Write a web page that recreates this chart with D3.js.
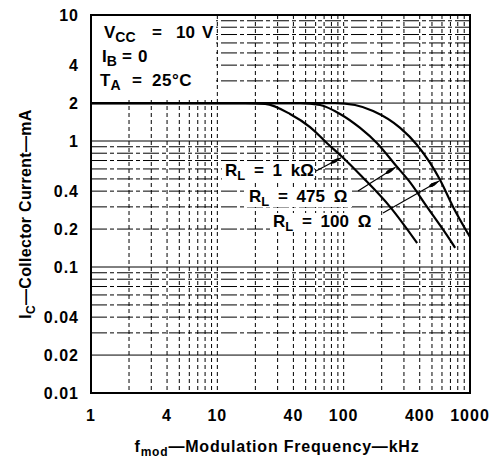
<!DOCTYPE html>
<html>
<head>
<meta charset="utf-8">
<script src="https://cdn.jsdelivr.net/npm/d3@7"></script>
<style>
  body { margin: 0; background: #fff; }
  text { font-family: "Liberation Sans", Arial, sans-serif; font-weight: bold; fill: #000; }
</style>
</head>
<body>
<svg id="chart" width="500" height="459"></svg>
<script>
// tick labels
const xTicks = [1, 4, 10, 40, 100, 400, 1000];
const yTicks = [0.01, 0.02, 0.04, 0.1, 0.2, 0.4, 1, 2, 4, 10];

// curves (kHz, mA)
const freq1k = [1, 16.6, 23.9, 37.6, 54.2, 73.9, 97.1, 140, 233, 381];
const cur1k = [2, 2, 1.97, 1.64, 1.29, 0.96, 0.75, 0.52, 0.30, 0.155];
const freq475 = [1, 45.2, 65, 93.6, 135, 184, 262, 330, 457, 695, 762];
const cur475 = [2, 2, 1.93, 1.64, 1.27, 0.96, 0.63, 0.48, 0.30, 0.164, 0.142];
const freq100 = [1, 85.5, 123, 171, 280, 381, 483, 580, 735, 1000];
const cur100 = [2, 2, 1.93, 1.73, 1.27, 0.93, 0.67, 0.49, 0.30, 0.173];

const seriesLabels = ['1 k\u03A9', '475 \u03A9', '100 \u03A9'];
// where each label arrow lands on its curve (kHz, mA)
const arrowFreq = [97.1, 262, 580];
const arrowCur = [0.75, 0.63, 0.49];

const svg = d3.select('#chart');
const plotL = 91, plotR = 470, plotT = 15, plotB = 393;

const x = d3.scaleLog().domain([1, 1000]).range([plotL, plotR]);
const y = d3.scaleLog().domain([0.01, 10]).range([plotB, plotT]);

// log grid lines (1..9 per decade)
const gridX = [], gridY = [];
[1, 10, 100].forEach(d => { for (let k = 1; k < 10; k++) gridX.push(d * k); });
[0.01, 0.1, 1].forEach(d => { for (let k = 1; k < 10; k++) gridY.push(+(d * k).toFixed(3)); });

const grid = svg.append('g');
grid.selectAll('.gy').data(gridY).enter().append('line')
    .attr('x1', plotL).attr('x2', plotR)
    .attr('y1', d => y(d)).attr('y2', d => y(d))
    .attr('stroke', '#000').attr('stroke-width', 1)
    .attr('stroke-dasharray', d => (d === 2 || d === 0.02 || d === 0.1 || d === 1) ? null : '16,3,4,3');
grid.selectAll('.gx').data(gridX).enter().append('line')
    .attr('y1', plotT).attr('y2', plotB)
    .attr('x1', d => x(d)).attr('x2', d => x(d))
    .attr('stroke', '#000').attr('stroke-width', 1)
    .attr('stroke-dasharray', '4,3');

// white area behind the conditions text
svg.append('rect').attr('x', plotL + 1).attr('y', plotT + 1).attr('width', 124).attr('height', 84).attr('fill', '#fff');

// curves
const line = d3.line().x(d => x(d[0])).y(d => y(d[1])).curve(d3.curveMonotoneX);
const curves = [d3.zip(freq1k, cur1k), d3.zip(freq475, cur475), d3.zip(freq100, cur100)];
svg.append('g').selectAll('path').data(curves).enter().append('path')
    .attr('d', line).attr('fill', 'none').attr('stroke', '#000').attr('stroke-width', 2.2);

// frame
svg.append('rect').attr('x', plotL).attr('y', plotT).attr('width', plotR - plotL).attr('height', plotB - plotT)
    .attr('fill', 'none').attr('stroke', '#000').attr('stroke-width', 2);

// axes labels
svg.append('g').selectAll('text').data(yTicks).enter().append('text')
    .attr('x', 79).attr('y', d => y(d) + 5.5).attr('text-anchor', 'end')
    .style('font-size', '16px').style('letter-spacing', '1px').text(d => d);
svg.append('g').selectAll('text').data(xTicks).enter().append('text')
    .attr('x', d => x(d)).attr('y', 421).attr('text-anchor', 'middle')
    .style('font-size', '16px').style('letter-spacing', '1px').text(d => d);

// conditions
function sub(t, main, s, font) {
  t.append('tspan').text(main);
  t.append('tspan').attr('dy', 4).style('font-size', (font - 3) + 'px').text(s);
}
const cond = svg.append('g').style('font-size', '17px');
let t = cond.append('text').attr('x', 104).attr('y', 38);
sub(t, 'V', 'CC', 17);
cond.append('text').attr('x', 152).attr('y', 38).text('=');
cond.append('text').attr('x', 176).attr('y', 38).text('10');
cond.append('text').attr('x', 202).attr('y', 38).text('V');
t = cond.append('text').attr('x', 102).attr('y', 62);
sub(t, 'I', 'B', 17);
cond.append('text').attr('x', 122).attr('y', 62).text('=');
cond.append('text').attr('x', 138).attr('y', 62).text('0');
t = cond.append('text').attr('x', 100).attr('y', 86);
sub(t, 'T', 'A', 17);
cond.append('text').attr('x', 132).attr('y', 86).text('=');
cond.append('text').attr('x', 152).attr('y', 86).style('letter-spacing', '0.5px').text('25\u00B0C');

// R_L labels with arrows
const labelPos = [[225, 176, 92], [249, 202, 106], [273, 227, 108]];
const arrowFrom = [[316, 171], [358, 191], [383, 213]];

svg.append('defs').append('marker').attr('id', 'arr')
    .attr('viewBox', '0 0 12 8').attr('refX', 12).attr('refY', 4)
    .attr('markerWidth', 12).attr('markerHeight', 8).attr('markerUnits', 'userSpaceOnUse')
    .attr('orient', 'auto')
    .append('path').attr('d', 'M0,4 Q3,0.5 12,4 Q3,7.5 0,4 Z').attr('fill', '#000');

seriesLabels.forEach((s, i) => {
  const p = labelPos[i];
  svg.append('rect').attr('x', p[0] - 3).attr('y', p[1] - 14).attr('width', p[2]).attr('height', 19).attr('fill', '#fff');
  const lt = svg.append('text').attr('x', p[0]).attr('y', p[1]).style('font-size', '17px').style('word-spacing', '4px');
  lt.append('tspan').text('R');
  lt.append('tspan').attr('dy', 4).style('font-size', '13px').text('L');
  lt.append('tspan').attr('dy', -4).text(' = ' + s);
  svg.append('line')
      .attr('x1', arrowFrom[i][0]).attr('y1', arrowFrom[i][1])
      .attr('x2', x(arrowFreq[i]) - 1).attr('y2', y(arrowCur[i]) + 1)
      .attr('stroke', '#000').attr('stroke-width', 1.2).attr('marker-end', 'url(#arr)');
});

// axis titles
const yt = svg.append('text').attr('transform', 'translate(31,214) rotate(-90)')
    .attr('text-anchor', 'middle').style('font-size', '16px').style('letter-spacing', '0.3px');
yt.append('tspan').text('I');
yt.append('tspan').attr('dy', 4).style('font-size', '12px').text('C');
yt.append('tspan').attr('dy', -4).text('\u2014Collector Current\u2014mA');

const xt = svg.append('text').attr('x', 277).attr('y', 452)
    .attr('text-anchor', 'middle').style('font-size', '16px').style('letter-spacing', '0.8px');
xt.append('tspan').text('f');
xt.append('tspan').attr('dy', 4).style('font-size', '12px').text('mod');
xt.append('tspan').attr('dy', -4).text('\u2014Modulation Frequency\u2014kHz');
</script>
</body>
</html>
